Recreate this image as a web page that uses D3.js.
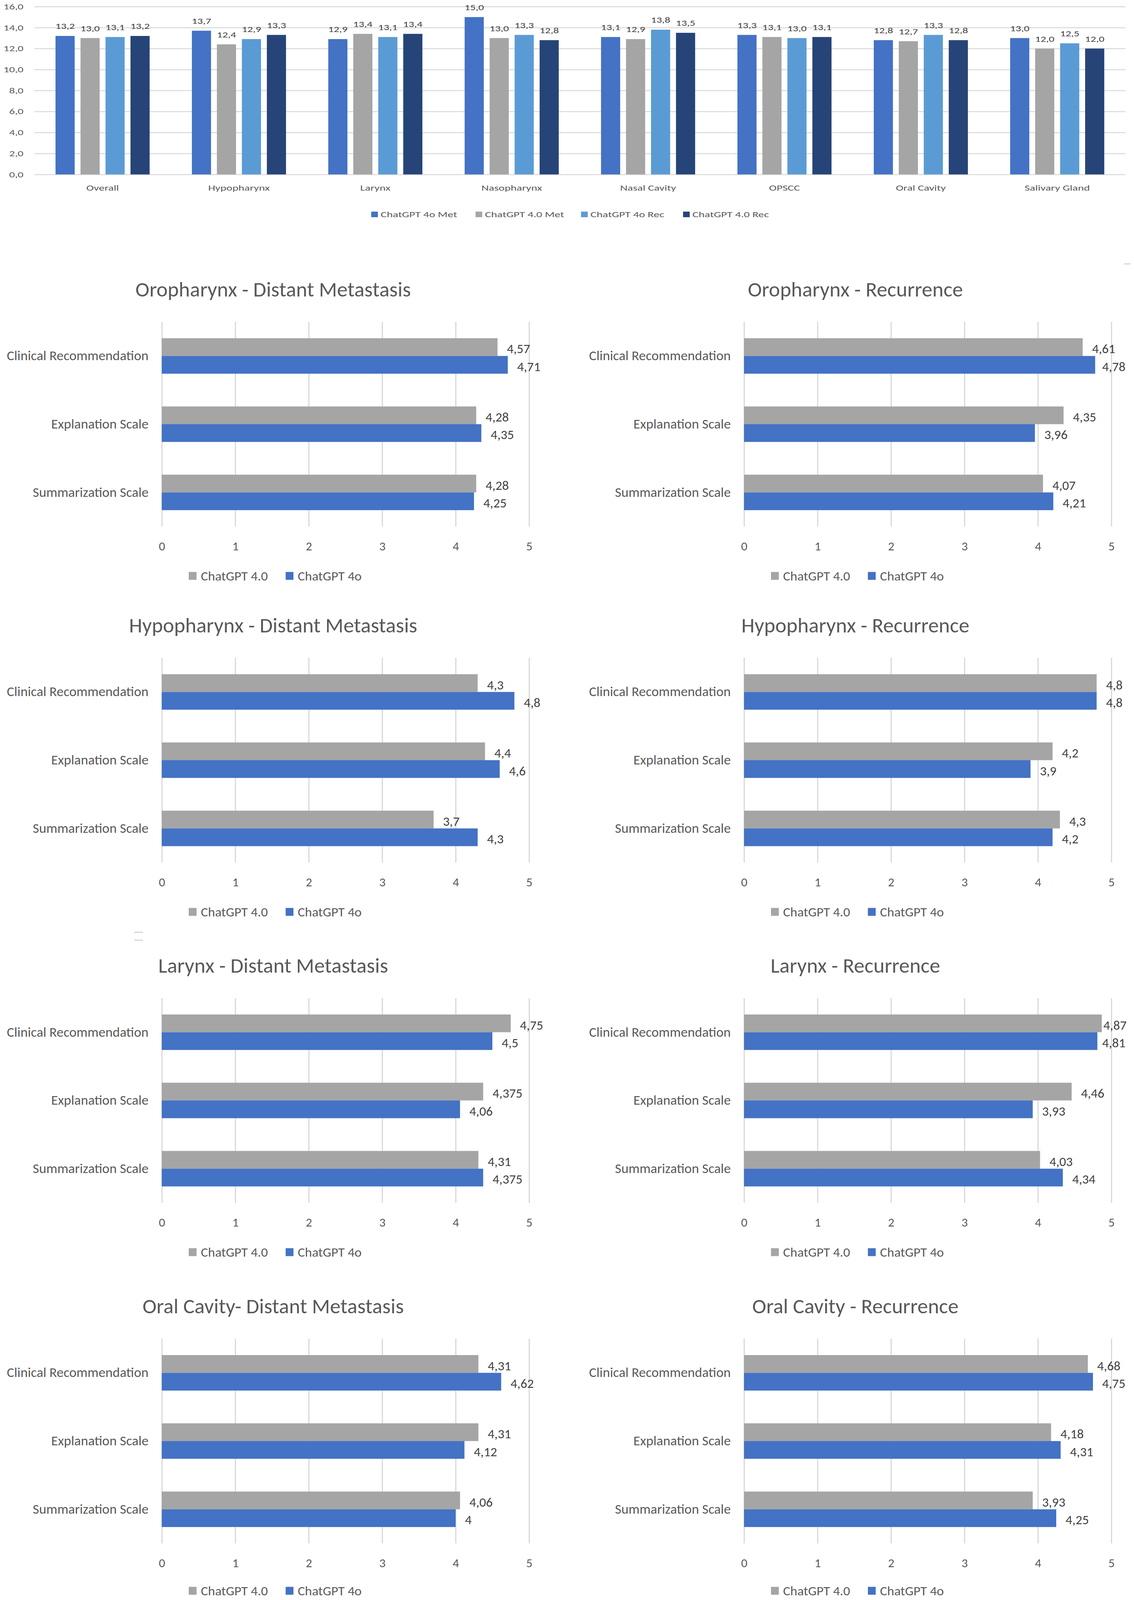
<!DOCTYPE html>
<html>
<head>
<meta charset="utf-8">
<script src="https://cdn.jsdelivr.net/npm/d3@7"></script>
<style>
  html, body { margin: 0; background: #fff; overflow: hidden; }
  svg { display: block; }
  text { font-family: Carlito, Lato, "Open Sans", sans-serif; }
</style>
</head>
<body>
<svg id="chart"></svg>
<script>
// top chart: total scores per site
const sites = ["Overall", "Hypopharynx", "Larynx", "Nasopharynx", "Nasal Cavity", "OPSCC", "Oral Cavity", "Salivary Gland"];
const seriesNames = ["ChatGPT 4o Met", "ChatGPT 4.0 Met", "ChatGPT 4o Rec", "ChatGPT 4.0 Rec"];
const gpt4oMet = [13.2, 13.7, 12.9, 15.0, 13.1, 13.3, 12.8, 13.0];
const gpt40Met = [13.0, 12.4, 13.4, 13.0, 12.9, 13.1, 12.7, 12.0];
const gpt4oRec = [13.1, 12.9, 13.1, 13.3, 13.8, 13.0, 13.3, 12.5];
const gpt40Rec = [13.2, 13.3, 13.4, 12.8, 13.5, 13.1, 12.8, 12.0];
const yTicks = [0, 2, 4, 6, 8, 10, 12, 14, 16];

// small panels: scale scores per site and outcome
const scaleNames = ["Clinical Recommendation", "Explanation Scale", "Summarization Scale"];
const modelNames = ["ChatGPT 4.0", "ChatGPT 4o"];
const xTicks = [0, 1, 2, 3, 4, 5];
const panelTitles = [
  "Oropharynx - Distant Metastasis", "Oropharynx - Recurrence",
  "Hypopharynx - Distant Metastasis", "Hypopharynx - Recurrence",
  "Larynx - Distant Metastasis", "Larynx - Recurrence",
  "Oral Cavity- Distant Metastasis", "Oral Cavity - Recurrence"
];
const gpt40Scores = [
  [4.57, 4.28, 4.28], [4.61, 4.35, 4.07],
  [4.3, 4.4, 3.7], [4.8, 4.2, 4.3],
  [4.75, 4.375, 4.31], [4.87, 4.46, 4.03],
  [4.31, 4.31, 4.06], [4.68, 4.18, 3.93]
];
const gpt4oScores = [
  [4.71, 4.35, 4.25], [4.78, 3.96, 4.21],
  [4.8, 4.6, 4.3], [4.8, 3.9, 4.2],
  [4.5, 4.06, 4.375], [4.81, 3.93, 4.34],
  [4.62, 4.12, 4], [4.75, 4.31, 4.25]
];

const topColors = ["#4472C4", "#A5A5A5", "#5B9BD5", "#264478"];
const panelColors = ["#A5A5A5", "#4472C4"];
const gridColor = "#D9D9D9";
const axisText = "#595959";
const valueText = "#404040";
const comma = v => String(v).replace(".", ",");

// the figure is drawn in its own 2902x4862 space and fitted into the window
const W = 2902, H = 4862;
const svg = d3.select("#chart")
  .attr("width", window.innerWidth || W)
  .attr("height", window.innerHeight || H)
  .attr("viewBox", `0 0 ${W} ${H}`)
  .attr("preserveAspectRatio", "none");
svg.append("rect").attr("width", W).attr("height", H).attr("fill", "#fff");

// the source text is Calibri pulled out of shape, so stretch glyphs the same way
function fit(sel, k) {
  sel.each(function () {
    const w = this.getComputedTextLength();
    this.setAttribute("textLength", w * k);
    this.setAttribute("lengthAdjust", "spacingAndGlyphs");
    this.__w = w * k;
  });
}

function drawTop() {
  const area = { left: 88, right: 2880, top: 20, bottom: 530 };
  const g = svg.append("g");

  const x0 = d3.scaleBand().domain(sites).range([area.left, area.right])
    .paddingInner(0.31).paddingOuter(0.155);
  const x1 = d3.scaleBand().domain(seriesNames).range([0, x0.bandwidth()]).paddingInner(0.234);
  const y = d3.scaleLinear().domain([0, 16]).range([area.bottom, area.top]);

  const axisY = d3.axisLeft(y).tickValues(yTicks)
    .tickSize(-(area.right - area.left)).tickPadding(28)
    .tickFormat(d => d3.format(".1f")(d).replace(".", ","));
  const gy = g.append("g").attr("transform", `translate(${area.left},0)`).call(axisY);
  gy.select(".domain").remove();
  gy.selectAll(".tick line").attr("stroke", gridColor).attr("stroke-width", 3);
  gy.selectAll(".tick text").attr("fill", axisText).attr("font-size", 24.5).call(fit, 1.18);

  const values = [gpt4oMet, gpt40Met, gpt4oRec, gpt40Rec];
  const rows = [];
  sites.forEach((s, i) => seriesNames.forEach((n, k) => rows.push({ site: s, name: n, k: k, v: values[k][i] })));

  g.selectAll(".bar").data(rows).enter().append("rect")
    .attr("x", d => x0(d.site) + x1(d.name))
    .attr("y", d => y(d.v))
    .attr("width", x1.bandwidth())
    .attr("height", d => y(0) - y(d.v))
    .attr("fill", d => topColors[d.k]);

  g.selectAll(".val").data(rows).enter().append("text")
    .attr("x", d => x0(d.site) + x1(d.name) + x1.bandwidth() / 2)
    .attr("y", d => y(d.v) - 21)
    .attr("text-anchor", "middle")
    .attr("font-size", 25)
    .attr("fill", valueText)
    .text(d => d3.format(".1f")(d.v).replace(".", ","))
    .call(fit, 1.12);

  const axisX = d3.axisBottom(x0).tickSize(0).tickPadding(32);
  const gx = g.append("g").attr("transform", `translate(0,${area.bottom})`).call(axisX);
  gx.select(".domain").remove();
  gx.selectAll(".tick text").attr("fill", axisText).attr("font-size", 24.5).call(fit, 1.19);

  // legend
  const legendX = [950, 1217, 1487, 1748];
  const lg = g.selectAll(".leg").data(seriesNames).enter().append("g")
    .attr("transform", (d, i) => `translate(${legendX[i]},651)`);
  lg.append("rect").attr("x", 0).attr("y", -8).attr("width", 17).attr("height", 17)
    .attr("fill", (d, i) => topColors[i]);
  lg.append("text").attr("x", 24).attr("dy", "0.35em").attr("font-size", 24.5)
    .attr("fill", axisText).text(d => d).call(fit, 1.2);
}

function drawPanel(idx) {
  const col = idx % 2, row = Math.floor(idx / 2);
  const rowTops = [978, 1999, 3033, 4068];
  const left = col === 0 ? 414 : 1904;
  const area = { left: left, right: left + 940, top: rowTops[row], bottom: rowTops[row] + 622 };
  const g = svg.append("g");

  const x = d3.scaleLinear().domain([0, 5]).range([area.left, area.right]);
  const y0 = d3.scaleBand().domain(scaleNames).range([area.top, area.bottom])
    .paddingInner(0.48).paddingOuter(0.24);
  const y1 = d3.scaleBand().domain(modelNames).range([0, y0.bandwidth()]);

  const axisX = d3.axisBottom(x).tickValues(xTicks).tickFormat(d => d)
    .tickSize(-(area.bottom - area.top)).tickPadding(46);
  const gx = g.append("g").attr("transform", `translate(0,${area.bottom})`).call(axisX);
  gx.select(".domain").remove();
  gx.selectAll(".tick line").attr("stroke", gridColor).attr("stroke-width", 3);
  gx.selectAll(".tick text").attr("fill", axisText).attr("font-size", 37).call(fit, 0.86);

  const rows = [];
  scaleNames.forEach((s, i) => {
    rows.push({ scale: s, model: modelNames[0], k: 0, v: gpt40Scores[idx][i] });
    rows.push({ scale: s, model: modelNames[1], k: 1, v: gpt4oScores[idx][i] });
  });

  g.selectAll(".bar").data(rows).enter().append("rect")
    .attr("x", x(0))
    .attr("y", d => y0(d.scale) + y1(d.model))
    .attr("width", d => x(d.v) - x(0))
    .attr("height", y1.bandwidth())
    .attr("fill", d => panelColors[d.k]);

  // labels sit past the bar end, but are pulled back to stay inside the chart
  const labelLimit = area.right + 36;
  g.selectAll(".val").data(rows).enter().append("text")
    .attr("y", d => y0(d.scale) + y1(d.model) + y1.bandwidth() / 2 + 5)
    .attr("dy", "0.35em")
    .attr("font-size", 39.5)
    .attr("fill", valueText)
    .text(d => comma(d.v))
    .call(fit, 0.85)
    .attr("x", function (d) { return Math.min(x(d.v) + 24, Math.max(x(d.v) + 4, labelLimit - this.__w)); });

  const axisY = d3.axisLeft(y0).tickSize(0).tickPadding(34);
  const gy = g.append("g").attr("transform", `translate(${area.left},0)`).call(axisY);
  gy.select(".domain").remove();
  gy.selectAll(".tick text").attr("fill", axisText).attr("font-size", 41).call(fit, 0.86);

  g.append("text")
    .attr("x", area.left + 285)
    .attr("y", area.top - 99)
    .attr("dy", "0.35em")
    .attr("text-anchor", "middle")
    .attr("font-size", 63)
    .attr("fill", axisText)
    .text(panelTitles[idx])
    .call(fit, 0.86);

  // legend, kept just inside the bottom edge on the last row
  const legendY = Math.min(area.bottom + 150, H - 28);
  const legendX = [area.left + 69, area.left + 317];
  const lg = g.selectAll(".leg").data(modelNames).enter().append("g")
    .attr("transform", (d, i) => `translate(${legendX[i]},${legendY})`);
  lg.append("rect").attr("x", 0).attr("y", -12).attr("width", 20).attr("height", 24)
    .attr("fill", (d, i) => panelColors[i]);
  lg.append("text").attr("x", 31).attr("dy", "0.35em").attr("font-size", 40)
    .attr("fill", axisText).text(d => d).call(fit, 0.86);
}

drawTop();
panelTitles.forEach((t, i) => drawPanel(i));

// stray marks left in the source picture
const strays = [[343, 366, 2833], [343, 366, 2857], [2877, 2893, 802]];
svg.selectAll(".stray").data(strays).enter().append("line")
  .attr("x1", d => d[0]).attr("x2", d => d[1])
  .attr("y1", d => d[2]).attr("y2", d => d[2])
  .attr("stroke", "#D0D0D0").attr("stroke-width", 3);
</script>
</body>
</html>
